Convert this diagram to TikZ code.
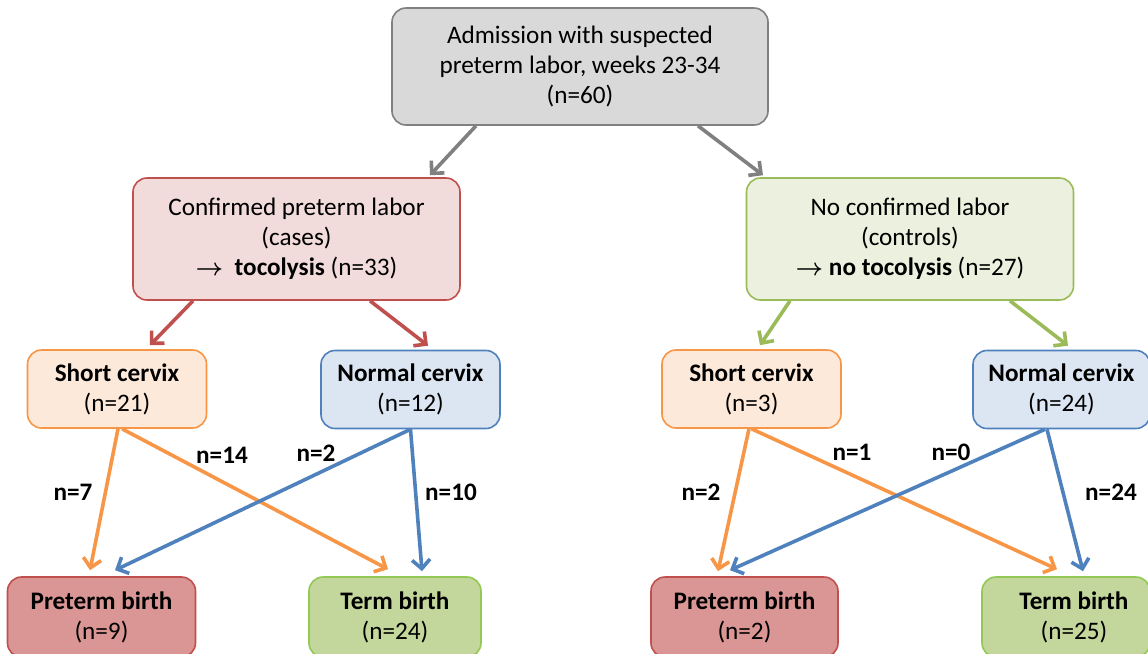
\documentclass[tikz,border=0pt]{standalone}
\usepackage{fontspec}
\setmainfont{Carlito}
\usepackage{tikz}
\usetikzlibrary{arrows.meta,positioning}

\definecolor{grayfill}{HTML}{D9D9D9}
\definecolor{grayline}{HTML}{808080}
\definecolor{casefill}{HTML}{F2DCDB}
\definecolor{caseline}{HTML}{C0504D}
\definecolor{ctrlfill}{HTML}{EBF1DE}
\definecolor{ctrlline}{HTML}{9BBB59}
\definecolor{shortfill}{HTML}{FDE9D9}
\definecolor{shortline}{HTML}{F79646}
\definecolor{normfill}{HTML}{DCE6F2}
\definecolor{normline}{HTML}{4F81BD}
\definecolor{pretfill}{HTML}{DA9694}
\definecolor{termfill}{HTML}{C3D69B}
\definecolor{termline}{HTML}{92C954}

\newcommand{\thenarrow}{{\boldmath$\rightarrow$}}

\begin{document}
\begin{tikzpicture}[
    x=0.5pt, y=-0.5pt,
    font=\fontsize{12.6}{15}\selectfont,
    box/.style={rectangle, rounded corners=7pt, line width=0.8pt, align=center, inner sep=0pt},
    topbox/.style={box, draw=grayline, fill=grayfill, minimum width=188pt, minimum height=58.5pt},
    groupbox/.style={box, minimum width=163.5pt, minimum height=61pt},
    smallbox/.style={box, minimum width=89.5pt, minimum height=39pt},
    count/.style={font=\fontsize{12.6}{15}\selectfont\bfseries},
    arrow/.style={line width=1.8pt, -{Straight Barb[length=4.5pt,width=9pt]}}
]
\useasboundingbox (0,0) rectangle (1148,654);
\clip (0,0) rectangle (1148,654);

% Stages
\node[topbox] (adm) at (580,66.5) {Admission with suspected\\preterm labor, weeks 23-34\\(n=60)};
\node[groupbox, draw=caseline, fill=casefill] (cases) at (296.5,239) {Confirmed preterm labor\\(cases)\\\thenarrow\ \ \textbf{tocolysis} (n=33)};
\node[groupbox, draw=ctrlline, fill=ctrlfill] (ctrl) at (910,239) {No confirmed labor\\(controls)\\\thenarrow\ \textbf{no tocolysis} (n=27)};

\node[smallbox, draw=shortline, fill=shortfill] (shortA) at (117,389) {\textbf{Short cervix}\\(n=21)};
\node[smallbox, draw=normline, fill=normfill] (normA) at (410.5,389.5) {\textbf{Normal cervix}\\(n=12)};
\node[smallbox, draw=shortline, fill=shortfill] (shortB) at (751.5,389) {\textbf{Short cervix}\\(n=3)};
\node[smallbox, draw=normline, fill=normfill, minimum width=88.5pt] (normB) at (1061.5,389.5) {\textbf{Normal cervix}\\(n=24)};

\node[smallbox, draw=caseline, fill=pretfill, minimum width=94pt, minimum height=40pt] (pretA) at (101.5,617) {\textbf{Preterm birth}\\(n=9)};
\node[smallbox, draw=termline, fill=termfill, minimum width=86pt, minimum height=40pt] (termA) at (395,617) {\textbf{Term birth}\\(n=24)};
\node[smallbox, draw=caseline, fill=pretfill, minimum width=93.5pt, minimum height=40pt] (pretB) at (744.5,617) {\textbf{Preterm birth}\\(n=2)};
\node[smallbox, draw=termline, fill=termfill, minimum width=84pt, minimum height=40pt] (termB) at (1066,617) {\hspace{8pt}\textbf{Term birth}\\\hspace{8pt}(n=25)};

% Arrows
\draw[arrow, grayline] ([shift={(-104,0)}]adm.south) -- ([shift={(133.5,-2)}]cases.north);
\draw[arrow, grayline] ([shift={(118,0)}]adm.south) -- ([shift={(-147,-2)}]ctrl.north);
\draw[arrow, caseline] ([shift={(-103.5,0)}]cases.south) -- ([shift={(33,-4)}]shortA.north);
\draw[arrow, caseline] ([shift={(73.5,0)}]cases.south) -- ([shift={(17.5,-4)}]normA.north);
\draw[arrow, ctrlline] ([shift={(-120,0)}]ctrl.south) -- ([shift={(8.5,-4)}]shortB.north);
\draw[arrow, ctrlline] ([shift={(100,0)}]ctrl.south) -- ([shift={(6.5,-4)}]normB.north);

\draw[arrow, shortline] ([shift={(1,0)}]shortA.south) -- ([shift={(-11.5,-6)}]pretA.north);
\draw[arrow, shortline] ([shift={(5,0)}]shortA.south) -- ([shift={(-7,-7)}]termA.north);
\draw[arrow, normline] (normA.south) -- ([shift={(13.5,-6)}]pretA.north);
\draw[arrow, normline] (normA.south) -- ([shift={(27,-5)}]termA.north);

\draw[arrow, shortline] ([shift={(-2.5,0)}]shortB.south) -- ([shift={(-26.5,-5)}]pretB.north);
\draw[arrow, shortline] (shortB.south) -- ([shift={(-9,-7)}]termB.north);
\draw[arrow, normline] ([shift={(-16.5,0)}]normB.south) -- ([shift={(-14.5,-6)}]pretB.north);
\draw[arrow, normline] ([shift={(-14.5,0)}]normB.south) -- ([shift={(17,-5)}]termB.north);

% Counts
\node[count] (c1) at (73,492) {n=7};
\node[count] (c2) at (222,455) {n=14};
\node[count] (c3) at (316,453) {n=2};
\node[count] (c4) at (451,492) {n=10};
\node[count] (c5) at (701,492) {n=2};
\node[count] (c6) at (852,452) {n=1};
\node[count] (c7) at (951,452) {n=0};
\node[count] (c8) at (1111,492) {n=24};
\end{tikzpicture}
\end{document}
